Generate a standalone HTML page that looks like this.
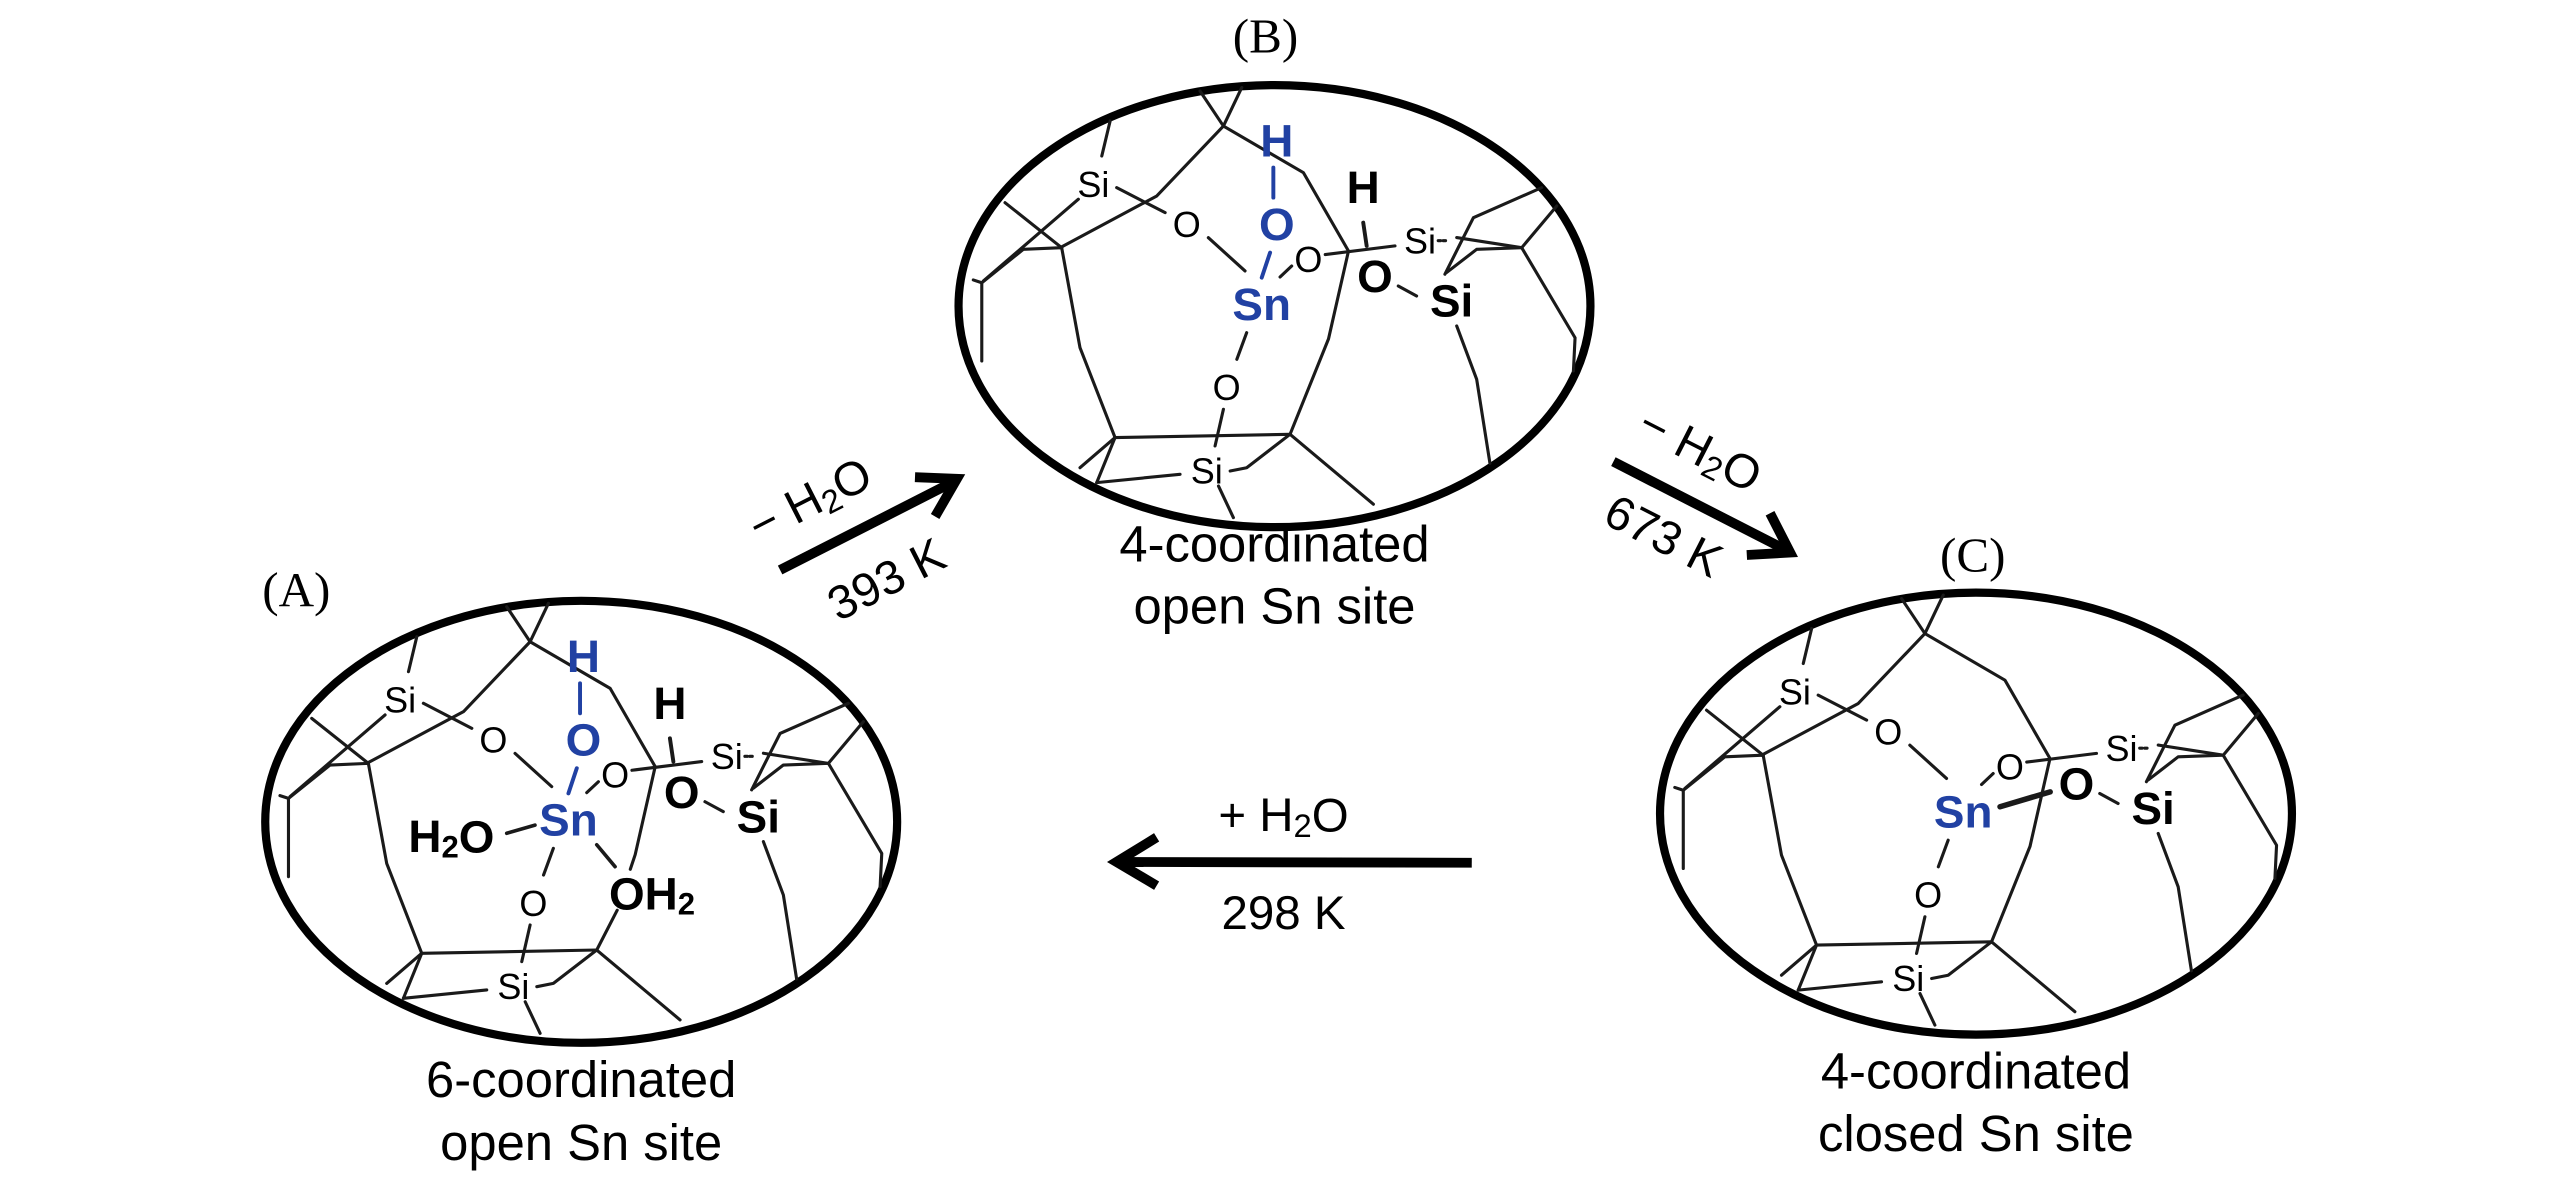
<!DOCTYPE html>
<html><head><meta charset="utf-8"><style>
html,body{margin:0;padding:0;background:#fff;}
svg{display:block;}
text{font-family:"Liberation Sans",Arial,sans-serif;}
.c line,.c polyline{stroke:#1a1a1a;stroke-width:1.9;fill:none;stroke-linecap:round;stroke-linejoin:round;}
.s{font-size:22px;}
.b{font-size:28px;font-weight:bold;}
.bl{fill:#2141a3;}
.cap{font-size:31px;}
.lab{font-family:"Liberation Serif",serif;font-size:30px;}
</style></head><body>
<svg width="2567" height="1181" viewBox="0 0 1568 721.4" xmlns="http://www.w3.org/2000/svg">
<defs>
<g id="cage">
<ellipse cx="355" cy="502" rx="193" ry="135" fill="none" stroke="#000" stroke-width="5"/>
<g class="c">
<polyline points="309.5,370.6 323.8,392 335,368.5"/>
<polyline points="323.8,392 372.7,420.5 400.2,468.3"/>
<polyline points="323.8,392 283.1,434.7 224,466.3"/>
<line x1="254.6" y1="388.9" x2="249.5" y2="410.3"/>
<line x1="190.4" y1="438.8" x2="225" y2="466.3"/>
<line x1="235.2" y1="436.7" x2="177.2" y2="486.6"/>
<polyline points="225,466.3 201.6,467.3 176.2,487.7 171,486"/>
<line x1="176.2" y1="487.7" x2="176.2" y2="535.5"/>
<polyline points="225,466.3 236.2,527.4 257.6,582.3"/>
<line x1="257.6" y1="582.3" x2="364.5" y2="580.3"/>
<line x1="257.6" y1="582.3" x2="236.2" y2="600.7"/>
<line x1="257.6" y1="582.3" x2="246.4" y2="609.8"/>
<line x1="246.4" y1="609.8" x2="297.3" y2="604.7"/>
<line x1="320.8" y1="611.9" x2="329.9" y2="631.2"/>
<line x1="364.5" y1="580.3" x2="415.4" y2="623"/>
<polyline points="327.9,602.7 338,600.7 364.5,580.3"/>
<line x1="258.6" y1="429.6" x2="288.2" y2="444.9"/>
<line x1="314.6" y1="460.2" x2="337" y2="480.5"/>
<line x1="365.5" y1="477.5" x2="358.4" y2="484.2"/>
<line x1="338" y1="518.2" x2="332" y2="534.5"/>
<line x1="323.8" y1="565" x2="318.7" y2="587.4"/>
<line x1="386" y1="470.5" x2="428.6" y2="465.2"/>
<line x1="430.6" y1="489.7" x2="441.8" y2="495.8"/>
<line x1="455" y1="462" x2="460" y2="462" stroke-dasharray="1.5 1.5"/>
<polyline points="459.1,482.5 469.3,462.2 476.5,448 518.2,429.6"/>
<polyline points="466.3,460.1 506,466.3 527.4,440.8"/>
<polyline points="460.1,481.5 478.5,467.3 506,466.3"/>
<polyline points="506,466.3 538.6,521.3 537.6,541.6"/>
<polyline points="466.3,514.1 478.5,546.7 486.6,598"/>
</g>
<text class="s" x="244.4" y="427.6" text-anchor="middle" dominant-baseline="central">Si</text>
<text class="s" x="301.4" y="452" text-anchor="middle" dominant-baseline="central">O</text>
<text class="s" x="375.7" y="473.4" text-anchor="middle" dominant-baseline="central">O</text>
<text class="s" x="325.8" y="551.8" text-anchor="middle" dominant-baseline="central">O</text>
<text class="s" x="313.6" y="602.7" text-anchor="middle" dominant-baseline="central">Si</text>
<text class="s" x="443.9" y="462.2" text-anchor="middle" dominant-baseline="central">Si</text>
<text class="b" x="416.4" y="484" text-anchor="middle" dominant-baseline="central">O</text>
<text class="b" x="463.2" y="499" text-anchor="middle" dominant-baseline="central">Si</text>
<text class="b bl" x="347.2" y="501" text-anchor="middle" dominant-baseline="central" style="font-size:28px">Sn</text>
</g>
<g id="hyd">
<g class="c">
<line x1="354.3" y1="417.4" x2="354.3" y2="435.7" style="stroke:#2141a3;stroke-width:2.4"/>
<line x1="352.3" y1="469.3" x2="347.2" y2="484.6" style="stroke:#2141a3;stroke-width:2.4"/>
<line x1="409.2" y1="451" x2="411.3" y2="465.2" style="stroke-width:2.4"/>
</g>
<text class="b bl" x="356.4" y="401" text-anchor="middle" dominant-baseline="central">H</text>
<text class="b bl" x="356.4" y="452" text-anchor="middle" dominant-baseline="central">O</text>
<text class="b" x="409.2" y="429.6" text-anchor="middle" dominant-baseline="central">H</text>
</g>
</defs>

<!-- A -->
<use href="#cage"/>
<use href="#hyd"/>
<g class="c">
<polyline points="400.2,468.3 388,522 385,531"/>
<polyline points="377,556 364.5,580.3"/>
<line x1="309.5" y1="509" x2="326.8" y2="504" style="stroke-width:2.2"/>
<line x1="364.5" y1="516" x2="375.7" y2="529.4" style="stroke-width:2.2"/>
</g>
<text class="b" x="302" y="511" text-anchor="end" dominant-baseline="central">H<tspan font-size="19" dy="6">2</tspan><tspan dy="-6">O</tspan></text>
<text class="b" x="372" y="546" dominant-baseline="central">OH<tspan font-size="19" dy="6">2</tspan></text>

<!-- B -->
<g transform="translate(423.5,-315)">
<use href="#cage"/>
<use href="#hyd"/>
<g class="c"><polyline points="400.2,468.3 388,522 364.5,580.3"/></g>
</g>

<!-- C -->
<g transform="translate(852,-5)">
<use href="#cage"/>
<g class="c"><polyline points="400.2,468.3 388,522 364.5,580.3"/>
<line x1="369.7" y1="497.8" x2="400.3" y2="488.7" style="stroke-width:3.4"/></g>
</g>

<!-- labels -->
<text class="lab" x="181" y="360" text-anchor="middle" dominant-baseline="central">(A)</text>
<text class="lab" x="773" y="22" text-anchor="middle" dominant-baseline="central">(B)</text>
<text class="lab" x="1205" y="339" text-anchor="middle" dominant-baseline="central">(C)</text>

<!-- captions -->
<text class="cap" x="355" y="670" text-anchor="middle">6-coordinated</text>
<text class="cap" x="355" y="708.6" text-anchor="middle">open Sn site</text>
<text class="cap" x="778.5" y="343" text-anchor="middle">4-coordinated</text>
<text class="cap" x="778.5" y="381" text-anchor="middle">open Sn site</text>
<text class="cap" x="1207" y="665" text-anchor="middle">4-coordinated</text>
<text class="cap" x="1207" y="703" text-anchor="middle">closed Sn site</text>

<!-- arrows -->
<g stroke="#000" fill="none" stroke-width="6">
<line x1="476.5" y1="348.2" x2="583" y2="294"/>
<polyline points="558.9,291.5 584.5,292.5 571.2,315.5" stroke-linejoin="miter"/>
<line x1="985.5" y1="282" x2="1092" y2="336.5"/>
<polyline points="1081.2,313.5 1093.5,337.5 1067,339" stroke-linejoin="miter"/>
<line x1="899" y1="527" x2="683" y2="526.5"/>
<polyline points="706.5,511.5 682,526.5 706.5,541" stroke-linejoin="miter"/>
</g>
<g font-size="29">
<text transform="translate(494.8,305.5) rotate(-27)" text-anchor="middle" dominant-baseline="central">− H<tspan font-size="20" dy="6">2</tspan><tspan dy="-6">O</tspan></text>
<text transform="translate(541.6,354.3) rotate(-27)" text-anchor="middle" dominant-baseline="central">393 K</text>
<text transform="translate(1038.4,274.8) rotate(27)" text-anchor="middle" dominant-baseline="central">− H<tspan font-size="20" dy="6">2</tspan><tspan dy="-6">O</tspan></text>
<text transform="translate(1016,327.8) rotate(27)" text-anchor="middle" dominant-baseline="central">673 K</text>
<text x="784" y="498" text-anchor="middle" dominant-baseline="central">+ H<tspan font-size="20" dy="6">2</tspan><tspan dy="-6">O</tspan></text>
<text x="784" y="558" text-anchor="middle" dominant-baseline="central">298 K</text>
</g>
</svg>
</body></html>
